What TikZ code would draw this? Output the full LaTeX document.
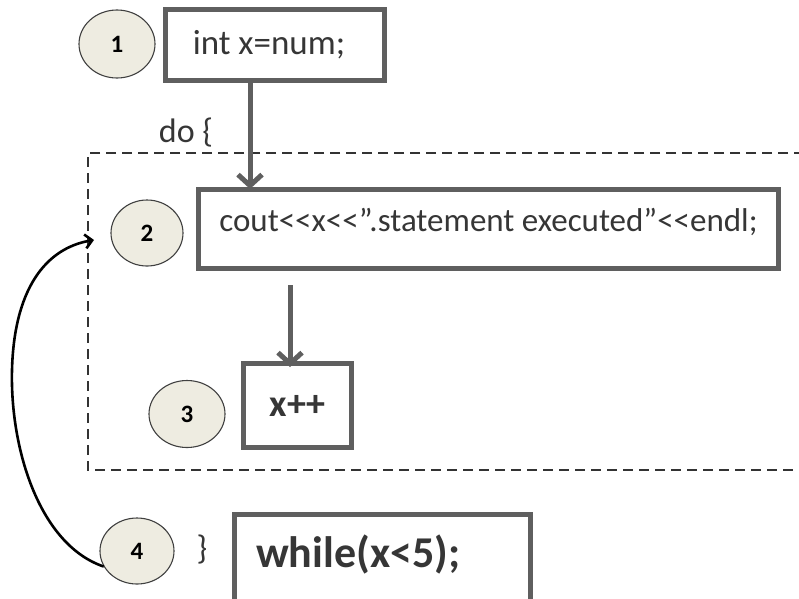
\documentclass[tikz,border=0pt]{standalone}
\usepackage{fontspec}
\setmainfont{Carlito}
\usetikzlibrary{arrows.meta,shapes.geometric}
\definecolor{boxgray}{HTML}{5F5F5F}
\definecolor{txtgray}{HTML}{363636}
\definecolor{ellfill}{HTML}{EEECE1}
\tikzset{
  numell/.style={ellipse, draw=black!75, line width=1.1pt, fill=ellfill, inner sep=0pt, font=\fontsize{25}{25}\selectfont\bfseries},
  codebox/.style={draw=boxgray, line width=5pt, inner sep=0pt, text=txtgray},
  flow/.style={draw=boxgray, line width=5pt, -{Straight Barb[length=11pt,width=24pt,line width=5pt]}},
  loopback/.style={draw=black, line width=2.6pt, -{Straight Barb[length=7pt,width=14pt,line width=2.6pt]}}
}
\begin{document}
\begin{tikzpicture}[x=1pt,y=-1pt]
\clip (0,0) rectangle (799,598);
\fill[white] (0,0) rectangle (799,598);
% dashed loop region
\draw[black!80, line width=1.4pt, dash pattern=on 10pt off 6pt] (820,153) -- (88,153) -- (88,470) -- (820,470);
% ellipses
\node[numell, minimum width=76pt, minimum height=68pt] (e1) at (117,44) {1};
\node[numell, minimum width=72pt, minimum height=66pt] (e2) at (147,233) {2};
\node[numell, minimum width=76pt, minimum height=67pt] (e3) at (187,414) {3};
\node[numell, minimum width=74pt, minimum height=66pt] (e4) at (137,551) {4};
% boxes
\node[codebox, minimum width=219pt, minimum height=71pt] (b1) at (275,45) {};
\node[text=txtgray, inner sep=0pt, font=\fontsize{35}{35}\selectfont] (t1) at (269,45) {int x=num;};
\node[codebox, minimum width=580pt, minimum height=79pt, font=\fontsize{33}{33}\selectfont, text height=24pt, text depth=20pt] (b2) at (488.5,229) {cout<{}<x<{}<”.statement executed”<{}<endl;};
\node[codebox, minimum width=108pt, minimum height=84pt, font=\fontsize{38}{38}\selectfont\bfseries] (b3) at (297.5,405.5) {x++};
\node[codebox, minimum width=296pt, minimum height=88pt] (b4) at (382.5,558) {};
\node[anchor=west, inner sep=0pt, text=txtgray, font=\fontsize{44}{44}\selectfont\bfseries] (t4) at (256,554) {while(x<5);};
% labels
\node[text=txtgray, font=\fontsize{34}{34}\selectfont, inner sep=0pt] (do) at (186,133) {do \{};
\node[text=txtgray, font=\fontsize{34}{34}\selectfont, inner sep=0pt] (cb) at (202,550) {\}};
% flow arrows
\coordinate (a1x) at (250,0);
\coordinate (a2x) at (290,0);
\draw[flow] (b1.south -| a1x) -- ([yshift=-2pt]b2.north -| a1x);
\draw[flow, shorten <=14pt] (b2.south -| a2x) -- ([yshift=-6pt]b3.north -| a2x);
% loop back curve
\coordinate (tip) at (94,240);
\draw[loopback] (e4.205) .. controls (40,545) and (10,450) .. (12,370) .. controls (14,290) and (45,248) .. (tip);
\end{tikzpicture}
\end{document}
